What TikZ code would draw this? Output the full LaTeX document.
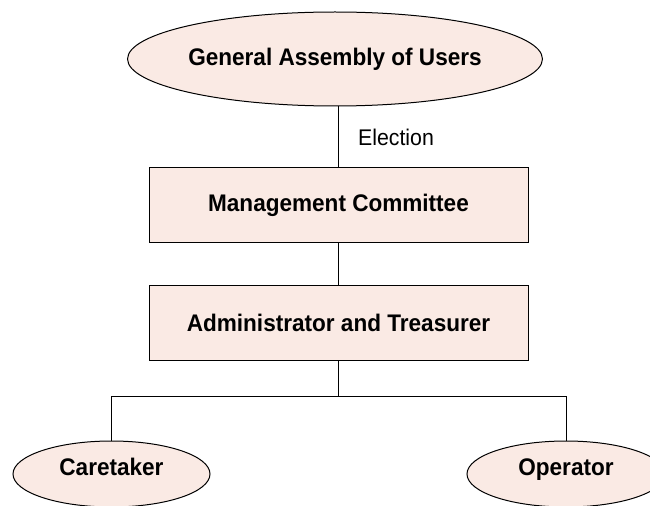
\documentclass[tikz,border=0pt]{standalone}
\usepackage{fontspec}
\setmainfont{Liberation Sans}[FakeStretch=0.94]
\usetikzlibrary{shapes.geometric,positioning}
\definecolor{paleRose}{RGB}{250,234,228}

\begin{document}
\begin{tikzpicture}[x=0.75pt, y=-0.75pt, line width=0.75pt,
  oval/.style={ellipse, draw, fill=paleRose, inner sep=0pt, text height=12.9pt, text depth=3pt, font=\fontsize{18}{21}\selectfont\bfseries},
  box/.style={rectangle, draw, fill=paleRose, minimum height=56.25pt, minimum width=284.25pt, font=\fontsize{18}{21}\selectfont\bfseries}]
\useasboundingbox (0,0) rectangle (650,506);
\clip (0,0) rectangle (650,506);
\node[oval, minimum width=304.5pt, minimum height=70.5pt] (assembly) at (335,59) {General Assembly of Users};
\node[box] (committee) at (338.5,205.5) {Management Committee};
\node[box, below=30.75pt of committee] (admin) {Administrator and Treasurer};
\node[oval, text depth=10.5pt, minimum width=147.75pt, minimum height=49.5pt] (caretaker) at (111.5,474) {Caretaker};
\node[oval, text depth=10.5pt, minimum width=148.5pt, minimum height=49.5pt] (operator) at (566,474) {Operator};
\coordinate[below=27pt of admin.south] (split);
\draw (committee.north) -- (committee.north |- assembly.south)
  node[midway, right=11pt, font=\fontsize{17}{20}\selectfont] (election) {Election};
\draw (committee) -- (admin);
\draw (admin.south) -- (split);
\draw (caretaker.north) |- (split) -| (operator.north);
\end{tikzpicture}
\end{document}
